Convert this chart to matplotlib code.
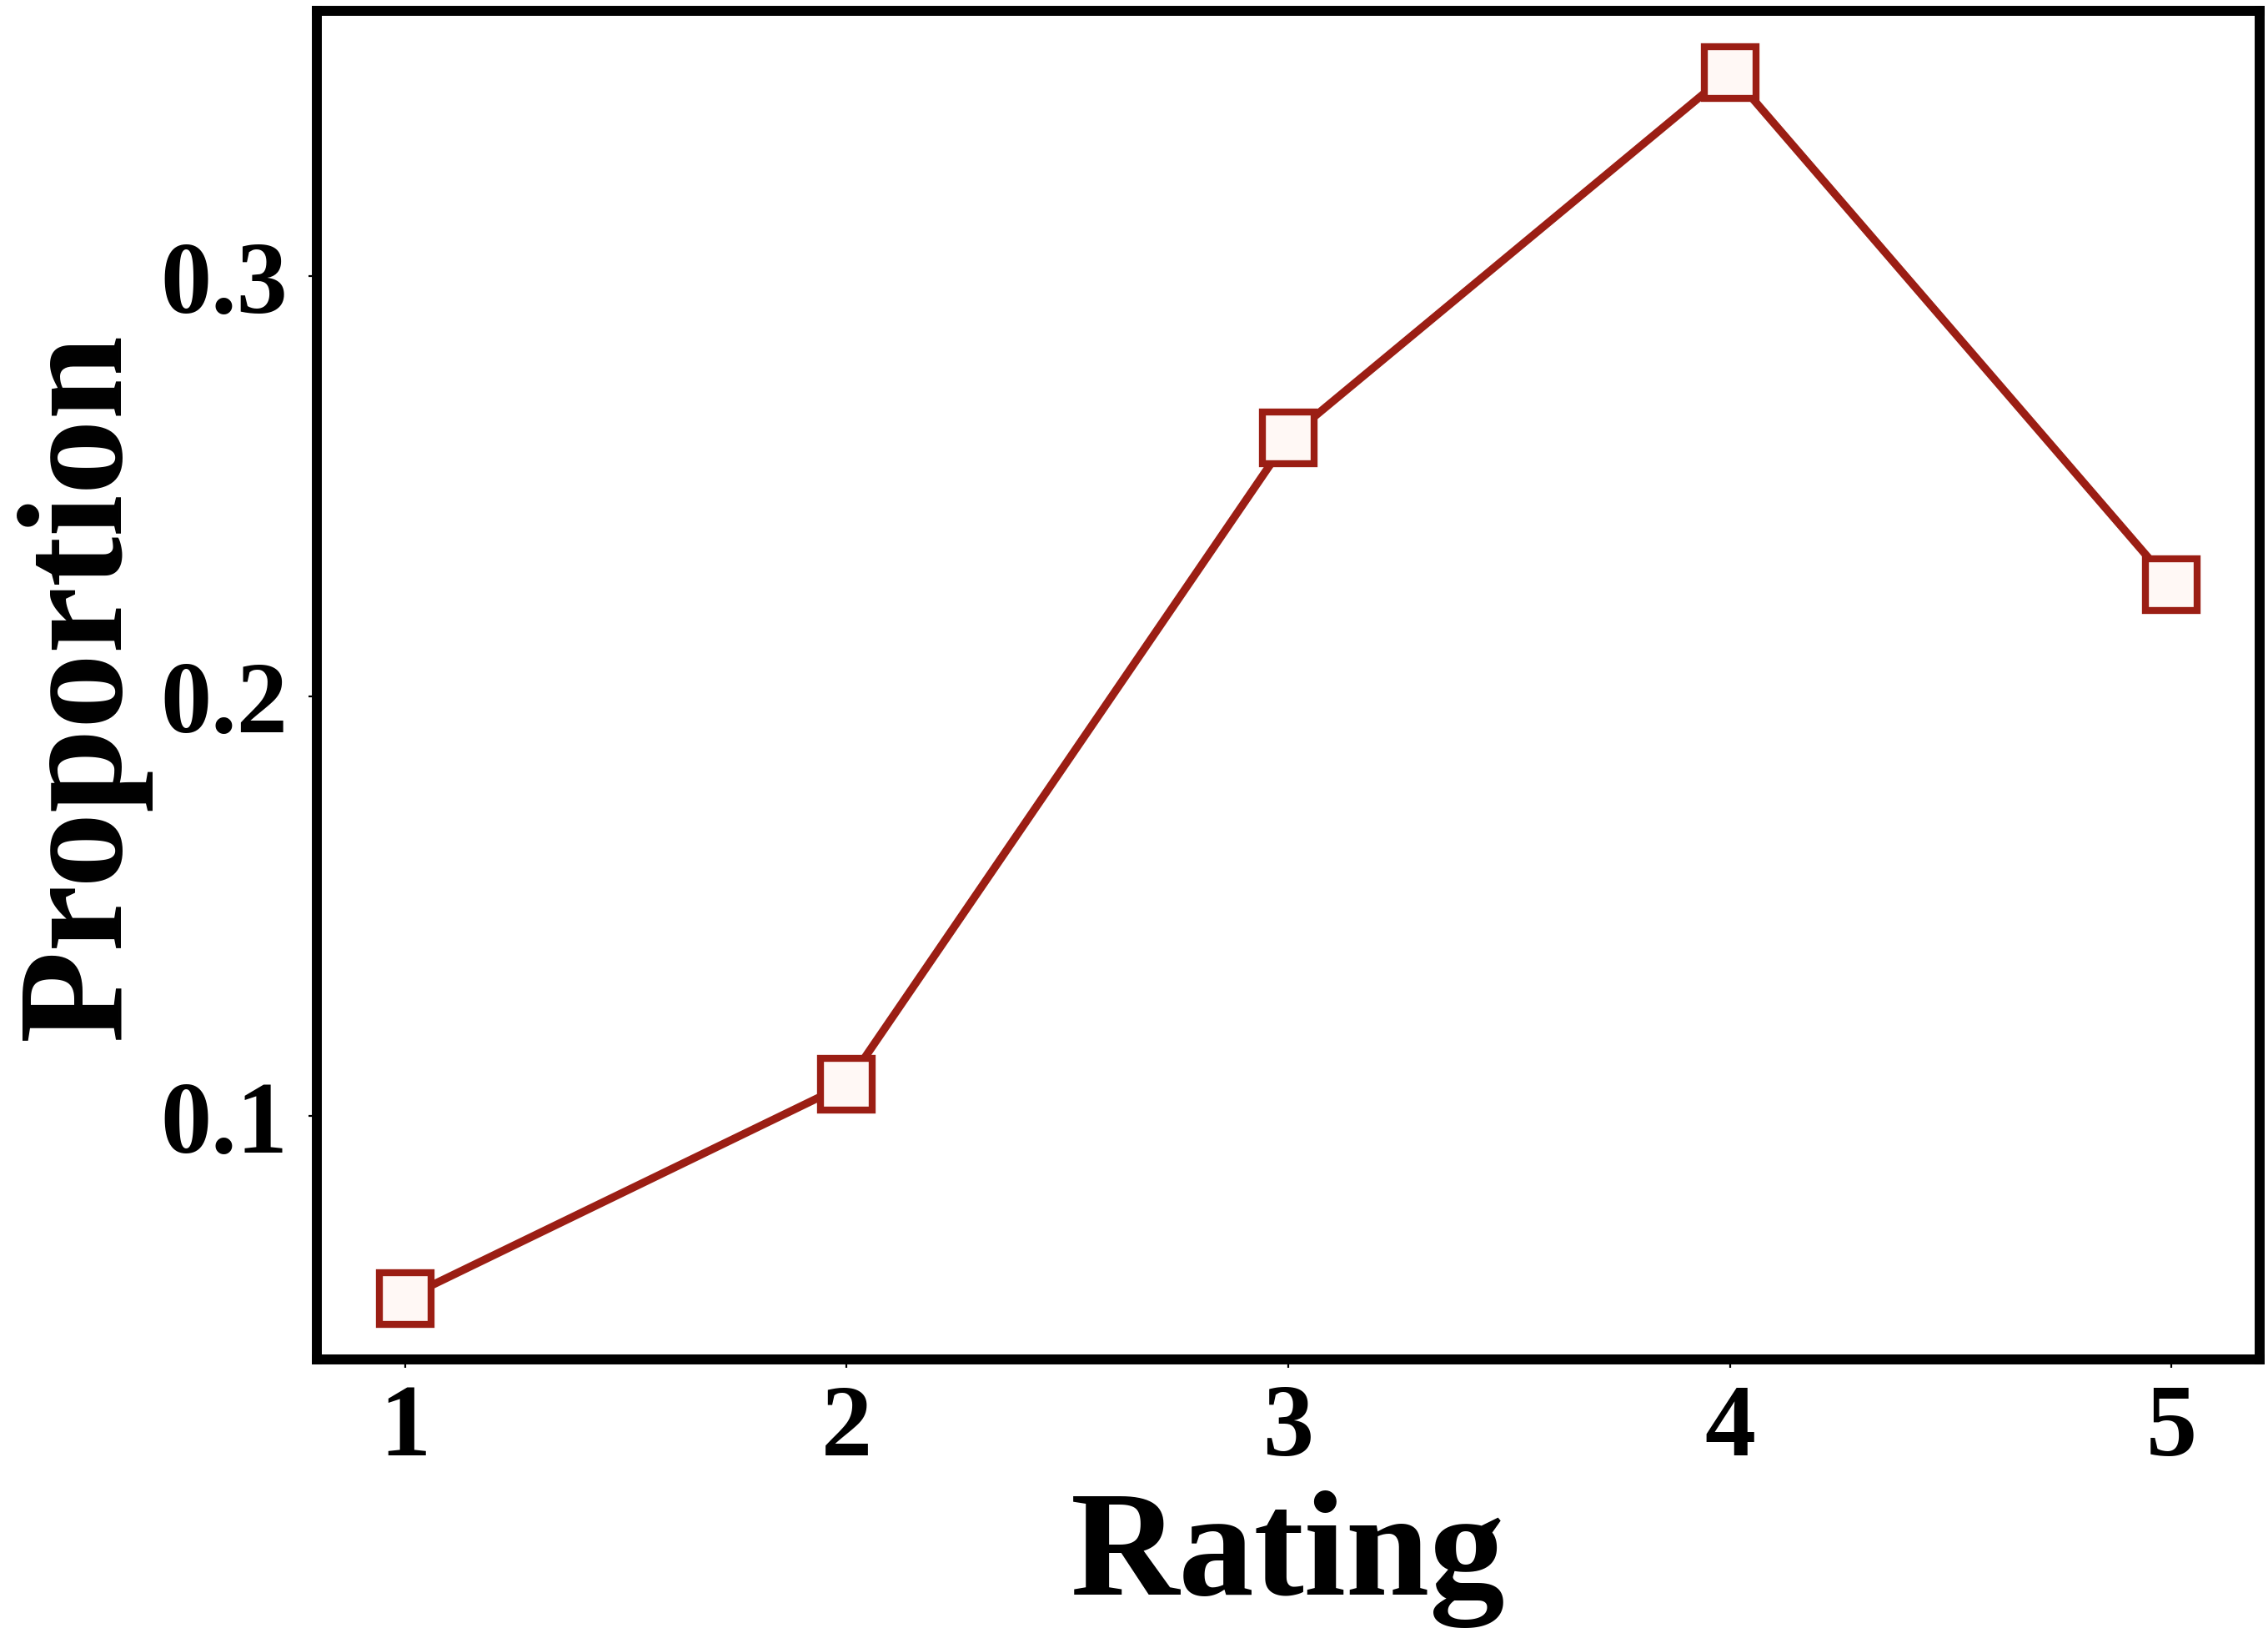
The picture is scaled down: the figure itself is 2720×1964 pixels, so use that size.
import matplotlib
matplotlib.use("Agg")
import matplotlib.pyplot as plt
from matplotlib import font_manager as fm

ratings = [1, 2, 3, 4, 5]
proportions = [0.0566, 0.1076, 0.2614, 0.3486, 0.2266]
xlabel = "Rating"
ylabel = "Proportion"

paths = [f.fname for f in fm.fontManager.ttflist
         if f.name == 'Liberation Serif' and f.weight == 700 and f.style == 'normal']
if paths:
    fp_tick = fm.FontProperties(fname=paths[0], size=44)
    fp_lab = fm.FontProperties(fname=paths[0], size=65)
else:
    fp_tick = fm.FontProperties(family='DejaVu Serif', weight='bold', size=44)
    fp_lab = fm.FontProperties(family='DejaVu Serif', weight='bold', size=65)

fig = plt.figure(figsize=(13.6, 9.825), dpi=200)
ax = fig.add_axes([380/2720, 1 - 1631/1965, (2710-380)/2720, (1631-14)/1965])

ax.plot(ratings, proportions, color='#9B1E14', linewidth=3.4, marker='s',
        markersize=22, markeredgewidth=3.0, markerfacecolor='#FFF8F5',
        markeredgecolor='#9B1E14')

ax.set_xticks(ratings)
ax.set_yticks([0.1, 0.2, 0.3])
ax.tick_params(axis='x', pad=7)
ax.tick_params(axis='y', pad=9)
for lab in ax.get_xticklabels() + ax.get_yticklabels():
    lab.set_fontproperties(fp_tick)
for s in ax.spines.values():
    s.set_linewidth(4.3)

ax.set_xlabel(xlabel, fontproperties=fp_lab)
ax.set_ylabel(ylabel, fontproperties=fp_lab)
ax.xaxis.label.set_va('baseline')
ax.yaxis.label.set_va('baseline')
ax.yaxis.label.set_rotation_mode('anchor')
ax.xaxis.set_label_coords(0.5, -(1912 - 1631) / (1631 - 14))
ax.yaxis.set_label_coords(-(380 - 143) / (2710 - 380), 0.5)

fig.savefig("out.png", dpi=200)
